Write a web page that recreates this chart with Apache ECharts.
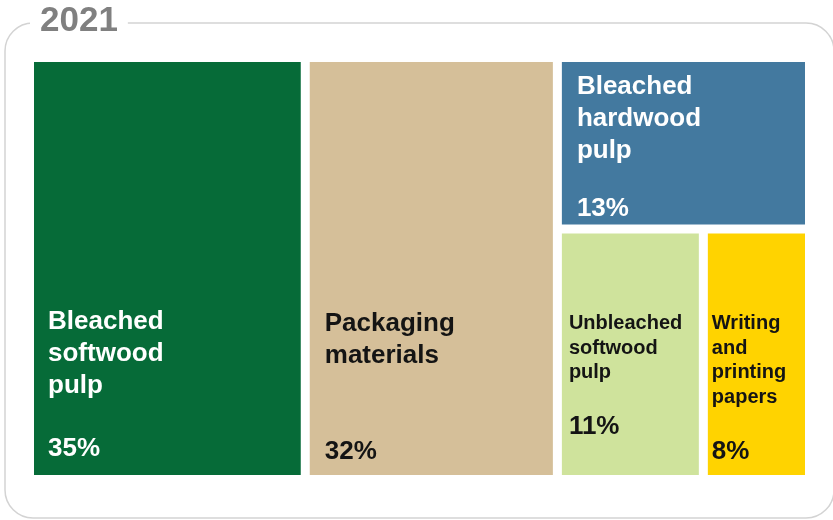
<!DOCTYPE html>
<html>
<head>
<meta charset="utf-8">
<script src="https://cdn.jsdelivr.net/npm/echarts@6/dist/echarts.min.js"></script>
<style>
html,body{margin:0;padding:0;background:#fff;}
#main{width:833px;height:520px;}
</style>
</head>
<body>
<div id="main"></div>
<script>
// ---- data ----
const yearLabel = '2021';
const categories = [
  'Bleached\nsoftwood\npulp',
  'Packaging\nmaterials',
  'Bleached\nhardwood\npulp',
  'Unbleached\nsoftwood\npulp',
  'Writing\nand\nprinting\npapers'
];
const shares = [35, 32, 13, 11, 8];

// ---- styles (per category, same order) ----
const colors = ['#066B38', '#D5BF99', '#43799F', '#CFE39C', '#FFD300'];
const textColors = ['#ffffff', '#141414', '#ffffff', '#141414', '#141414'];
const nameSizes = [26, 26, 26, 20, 20];
const nameLineH = [32, 32, 32, 24.5, 24.5];
const gapLineH = [31, 64, 26, 26, 26];
const labelPos = [[14, 244], [15, 246], [15, 9], [7, 78], [4, 78]];

const FONT = '"Liberation Sans", Arial, sans-serif';

const data = shares.map((v, i) => {
  const lines = categories[i].split('\n').map(s => '{n' + i + '|' + s + '}').join('\n');
  const rich = {};
  rich['n' + i] = {fontSize: nameSizes[i], lineHeight: nameLineH[i], fontWeight: 'bold', color: textColors[i], fontFamily: FONT};
  rich['g' + i] = {fontSize: 10, lineHeight: gapLineH[i], color: textColors[i]};
  rich['p' + i] = {fontSize: 26, lineHeight: 32, fontWeight: 'bold', color: textColors[i], fontFamily: FONT};
  return {
    name: categories[i],
    value: v,
    itemStyle: {color: colors[i]},
    label: {
      show: true,
      position: labelPos[i],
      padding: 0,
      overflow: 'none',
      lineOverflow: 'none',
      formatter: lines + '\n{g' + i + '| }\n{p' + i + '|' + v + '%}',
      rich: rich
    }
  };
});

const chart = echarts.init(document.getElementById('main'), null, {renderer: 'canvas'});
chart.setOption({
  animation: false,
  title: {
    text: yearLabel,
    left: 30,
    top: 0,
    padding: [0, 10],
    backgroundColor: '#ffffff',
    z: 10,
    textStyle: {fontSize: 35, fontWeight: 'bold', color: '#808080', fontFamily: FONT, lineHeight: 42}
  },
  graphic: [{
    type: 'rect',
    z: 0,
    silent: true,
    shape: {x: 5, y: 23, width: 829, height: 495, r: 28},
    style: {fill: 'none', stroke: '#D3D3D3', lineWidth: 1.5}
  }],
  series: [{
    type: 'treemap',
    left: 34,
    top: 62,
    width: 771,
    height: 413,
    squareRatio: 1,
    roam: false,
    nodeClick: false,
    breadcrumb: {show: false},
    emphasis: {disabled: true},
    itemStyle: {borderWidth: 0, gapWidth: 9, borderColor: '#fff'},
    label: {show: true, padding: 0, overflow: 'none', lineOverflow: 'none'},
    data: data
  }]
});
</script>
</body>
</html>
